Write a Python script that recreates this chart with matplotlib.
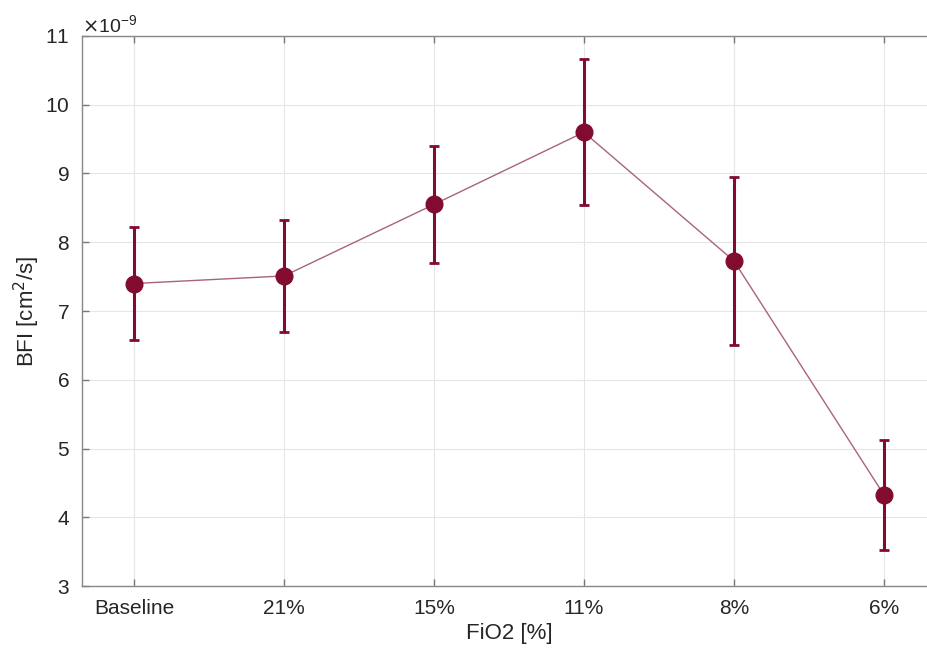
import matplotlib.pyplot as plt
from matplotlib.ticker import ScalarFormatter

plt.rcParams['font.family'] = ['Liberation Sans', 'DejaVu Sans']
plt.rcParams['axes.unicode_minus'] = False

labels = ['Baseline', '21%', '15%', '11%', '8%', '6%']
bfi = [7.40e-9, 7.51e-9, 8.55e-9, 9.60e-9, 7.73e-9, 4.33e-9]
err = [0.82e-9, 0.81e-9, 0.85e-9, 1.06e-9, 1.22e-9, 0.80e-9]

dark = '#820C30'
x = list(range(1, len(labels) + 1))

fig = plt.figure(figsize=(9.27, 6.52), dpi=100)
ax = fig.add_axes([0.0885, 0.1012, 0.921, 0.8436])

ax.plot(x, bfi, color='#A86478', lw=1.0, zorder=2)
ax.errorbar(x, bfi, yerr=err, fmt='o', color=dark, ecolor=dark, ms=12,
            elinewidth=2.2, capsize=3.5, capthick=2.0, zorder=3)

ax.set_xlim(0.653, 6.347)
ax.set_ylim(3e-9, 11e-9)
ax.set_xticks(x)
ax.set_xticklabels(labels)
ax.set_yticks([i * 1e-9 for i in range(3, 12)])

# fixed exponent, like the x10^-9 in the original
fmt = ScalarFormatter(useMathText=True)
fmt.set_powerlimits((-9, -9))
ax.yaxis.set_major_formatter(fmt)
ax.yaxis.get_offset_text().set_fontsize(14)
ax.yaxis.get_offset_text().set_color('#262626')

ax.grid(True, color='#E6E6E6', lw=0.8)
ax.set_axisbelow(True)
ax.tick_params(direction='in', length=5, width=1, colors='#777777',
               labelcolor='#262626', labelsize=15, pad=9, top=True)
for pos in ['left', 'bottom', 'top', 'right']:
    ax.spines[pos].set_color('#888888')
    ax.spines[pos].set_linewidth(1.0)

ax.set_xlabel('FiO2 [%]', fontsize=16, color='#262626', labelpad=4)
ax.set_ylabel('BFI [cm$^2$/s]', fontsize=16, color='#262626', labelpad=2)

plt.savefig('out.png', dpi=100)
